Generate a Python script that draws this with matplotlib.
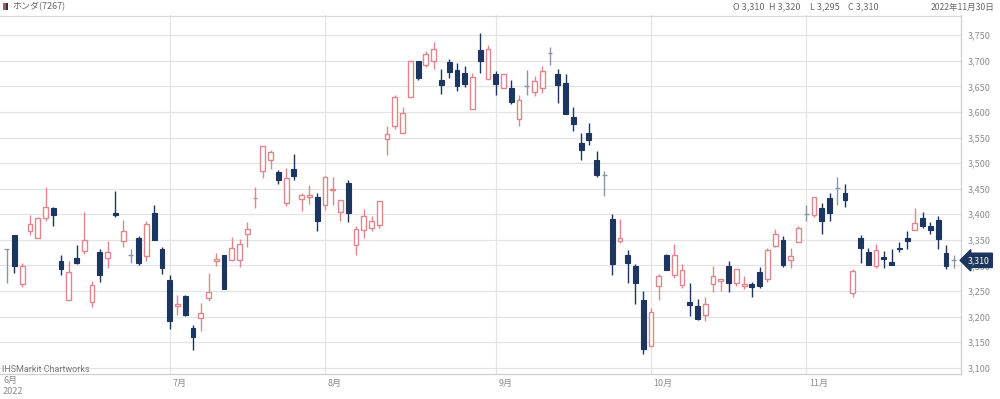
import numpy as np
import pandas as pd
import matplotlib
matplotlib.use("Agg")
import matplotlib.pyplot as plt
from matplotlib.patches import Rectangle
from matplotlib.ticker import FuncFormatter

plt.rcParams["font.family"] = ["Noto Sans CJK JP", "DejaVu Sans"]

# ── Data (Honda 7267 daily, 2022-06-02 .. 2022-11-30) ──
JP_HOLIDAYS = ["2022-07-18", "2022-08-11", "2022-09-19", "2022-09-23",
               "2022-10-10", "2022-11-03", "2022-11-23"]
dates = pd.bdate_range("2022-06-02", "2022-11-30", freq="C", holidays=JP_HOLIDAYS)

opens = [
    3333, 3360, 3264, 3367, 3354, 3393, 3412, 3308, 3233, 3315, 3328, 3229, 3327, 3314,
    3403, 3347, 3321, 3353, 3318, 3403, 3333,
    3272, 3221, 3240, 3178, 3197, 3236, 3308, 3320, 3310, 3311, 3362, 3431, 3484, 3507,
    3483, 3422, 3488, 3430, 3434, 3434,
    3418, 3448, 3404, 3462, 3339, 3370, 3373, 3380, 3547, 3573, 3558, 3630, 3700, 3691,
    3699, 3663, 3698, 3682, 3676, 3605, 3721, 3665,
    3675, 3646, 3646, 3586, 3651, 3640, 3646, 3715, 3674, 3657, 3591, 3539, 3558, 3506,
    3476, 3390, 3348, 3321, 3299, 3232,
    3142, 3259, 3320, 3282, 3261, 3229, 3221, 3203, 3263, 3270, 3299, 3265, 3259, 3263,
    3288, 3274, 3338, 3350, 3311, 3345,
    3400, 3399, 3413, 3431, 3452, 3441, 3247, 3353, 3327, 3298, 3317, 3307, 3335, 3354,
    3369, 3393, 3378, 3388, 3325, 3310,
]
highs = [
    3333, 3360, 3304, 3398, 3395, 3453, 3415, 3320, 3309, 3339, 3404, 3269, 3332, 3348,
    3446, 3388, 3333, 3358, 3387, 3418, 3337,
    3282, 3242, 3242, 3183, 3227, 3285, 3324, 3321, 3355, 3352, 3384, 3453, 3533, 3525,
    3486, 3490, 3518, 3441, 3457, 3441,
    3475, 3472, 3427, 3467, 3378, 3410, 3396, 3426, 3572, 3633, 3609, 3699, 3700, 3719,
    3737, 3685, 3703, 3695, 3690, 3677, 3755, 3732,
    3680, 3674, 3663, 3633, 3682, 3670, 3690, 3728, 3685, 3674, 3609, 3558, 3579, 3523,
    3485, 3400, 3391, 3331, 3302, 3250,
    3217, 3284, 3323, 3341, 3302, 3266, 3234, 3239, 3299, 3274, 3309, 3293, 3279, 3268,
    3297, 3334, 3372, 3358, 3334, 3378,
    3419, 3434, 3423, 3441, 3473, 3460, 3293, 3359, 3335, 3341, 3328, 3332, 3346, 3367,
    3412, 3405, 3384, 3397, 3339, 3320,
]
lows = [
    3265, 3286, 3257, 3359, 3353, 3387, 3377, 3282, 3232, 3303, 3322, 3219, 3267, 3294,
    3394, 3337, 3304, 3301, 3309, 3350, 3284,
    3176, 3203, 3201, 3134, 3172, 3230, 3298, 3253, 3310, 3297, 3337, 3412, 3471, 3488,
    3459, 3416, 3467, 3407, 3421, 3368,
    3408, 3418, 3386, 3384, 3321, 3353, 3367, 3373, 3516, 3566, 3558, 3630, 3663, 3688,
    3685, 3636, 3667, 3641, 3648, 3605, 3676, 3665,
    3633, 3646, 3615, 3573, 3633, 3631, 3638, 3692, 3618, 3597, 3563, 3506, 3535, 3473,
    3436, 3282, 3344, 3265, 3224, 3126,
    3142, 3233, 3291, 3276, 3255, 3201, 3193, 3192, 3248, 3250, 3249, 3260, 3253, 3239,
    3255, 3268, 3336, 3296, 3294, 3345,
    3386, 3395, 3361, 3387, 3419, 3414, 3238, 3304, 3300, 3294, 3294, 3301, 3326, 3332,
    3369, 3373, 3362, 3332, 3293, 3295,
]
closes = [
    3333, 3299, 3299, 3381, 3393, 3414, 3398, 3293, 3288, 3305, 3350, 3261, 3281, 3327,
    3398, 3368, 3321, 3304, 3381, 3350, 3294,
    3192, 3225, 3203, 3160, 3207, 3249, 3312, 3253, 3334, 3342, 3371, 3432, 3533, 3521,
    3467, 3470, 3475, 3437, 3437, 3387,
    3473, 3450, 3427, 3403, 3371, 3396, 3387, 3426, 3557, 3629, 3599, 3699, 3667, 3713,
    3724, 3652, 3678, 3651, 3655, 3669, 3700, 3724,
    3655, 3674, 3620, 3623, 3651, 3661, 3680, 3715, 3653, 3597, 3577, 3526, 3545, 3477,
    3476, 3302, 3354, 3304, 3266, 3137,
    3209, 3279, 3292, 3320, 3291, 3222, 3196, 3225, 3279, 3274, 3266, 3293, 3263, 3257,
    3259, 3330, 3361, 3300, 3319, 3373,
    3400, 3434, 3386, 3402, 3452, 3428, 3289, 3335, 3300, 3330, 3312, 3301, 3333, 3348,
    3382, 3377, 3369, 3351, 3299, 3310,
]
last_ohlc = ("3,310", "3,320", "3,295", "3,310")

# ── Style ─────────────────────────────────────────────────────────────────────
UP_COL   = "#e0868c"
DOWN_COL = "#1d365f"
DOJI_COL = "#8a97a8"
GRID_COL = "#e4e4e4"
TEXT_COL = "#8c8c8c"

fig = plt.figure(figsize=(10, 3.99), dpi=100)
ax = fig.add_axes([0.0, 1 - 374 / 399, 0.961, (374 - 15) / 399])

n = len(closes)
idx = np.arange(n)
o = np.array(opens, float)
h = np.array(highs, float)
l = np.array(lows, float)
c = np.array(closes, float)

W = 0.62
for i in idx:
    if o[i] == c[i]:
        ax.vlines(i, l[i], h[i], color=DOJI_COL, lw=1.0, zorder=3)
        ax.hlines(o[i], i - W / 2, i + W / 2, color=DOJI_COL, lw=1.0, zorder=3)
    elif c[i] > o[i]:
        ax.vlines(i, l[i], h[i], color=UP_COL, lw=1.0, zorder=3)
        ax.add_patch(Rectangle((i - W / 2, o[i]), W, c[i] - o[i],
                               facecolor="white", edgecolor=UP_COL, lw=1.0, zorder=4))
    else:
        ax.vlines(i, l[i], h[i], color=DOWN_COL, lw=1.0, zorder=3)
        ax.add_patch(Rectangle((i - W / 2, c[i]), W, o[i] - c[i],
                               facecolor=DOWN_COL, edgecolor=DOWN_COL, lw=0.8, zorder=4))

ax.set_xlim(-0.863, 122.94)
ax.set_ylim(3087.7, 3789.7)

# grid
yticks = np.arange(3100, 3751, 50)
for yv in yticks:
    ax.axhline(yv, color=GRID_COL, lw=0.9, zorder=1)
month_starts = [k for k in range(1, n) if dates[k].month != dates[k - 1].month]
for k in month_starts:
    ax.axvline(k, color=GRID_COL, lw=0.9, zorder=1)

ax.yaxis.tick_right()
ax.set_yticks(yticks)
ax.yaxis.set_major_formatter(FuncFormatter(lambda v, p: f"{v:,.0f}"))
ax.tick_params(axis="y", length=0, pad=5, labelsize=6.5, labelcolor=TEXT_COL)
ax.set_xticks([])
for s in ["top", "left"]:
    ax.spines[s].set_visible(False)
ax.spines["right"].set_color("#cfcfcf")
ax.spines["bottom"].set_color("#cfcfcf")
ax.spines["right"].set_linewidth(0.9)
ax.spines["bottom"].set_linewidth(0.9)

# month labels below the axis
for k in month_starts:
    ax.text(k + 0.35, -0.015, f"{dates[k].month}月", transform=ax.get_xaxis_transform(),
            ha="left", va="top", fontsize=6.5, color=TEXT_COL)
fig.text(0.003, 1 - 380 / 399, f"{dates[0].month}月", ha="left", va="center",
         fontsize=6.5, color=TEXT_COL)
fig.text(0.003, 1 - 391 / 399, f"{dates[0].year}", ha="left", va="center",
         fontsize=6.5, color=TEXT_COL)
fig.text(0.002, 1 - 370 / 399, "IHSMarkit Chartworks", ha="left", va="center",
         fontsize=6.5, color="#7a7a7a", family="Roboto")

# last price tag
ax.annotate(f"{c[-1]:,.0f}", xy=(1.0, c[-1]), xycoords=ax.get_yaxis_transform(),
            xytext=(5, 0), textcoords="offset points", ha="left", va="center",
            fontsize=6.3, color="white", zorder=10, annotation_clip=False,
            bbox=dict(boxstyle="larrow,pad=0.3", facecolor=DOWN_COL, edgecolor=DOWN_COL))

# header
fig.add_artist(Rectangle((0.003, 1 - 10 / 399), 0.0025, 7 / 399, transform=fig.transFigure,
                         facecolor="#c0504d", edgecolor="none"))
fig.add_artist(Rectangle((0.0055, 1 - 10 / 399), 0.0025, 7 / 399, transform=fig.transFigure,
                         facecolor="#1d365f", edgecolor="none"))
fig.text(0.012, 1 - 7 / 399, "ホンダ(7267)", ha="left", va="center", fontsize=6.5,
         color="#666666")
for lab, val, xp in zip(["O", "H", "L", "C"], last_ohlc, [0.733, 0.769, 0.810, 0.848]):
    fig.text(xp, 1 - 7 / 399, f"{lab} {val}", ha="left", va="center", fontsize=6.5,
             color="#666666")
fig.text(0.995, 1 - 7 / 399, f"{dates[-1].year}年{dates[-1].month}月{dates[-1].day}日",
         ha="right", va="center", fontsize=6.2, color="#666666")
fig.add_artist(plt.Line2D([0, 0.961], [1 - 15.5 / 399, 1 - 15.5 / 399],
                          transform=fig.transFigure, color="#d8d8d8", lw=0.9))

fig.savefig("out.png", dpi=100)
